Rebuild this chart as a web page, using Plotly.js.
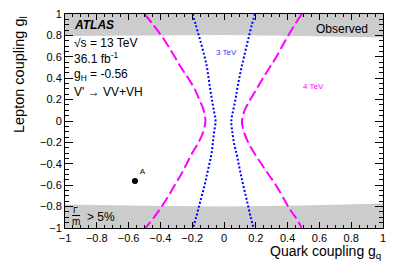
<!DOCTYPE html>
<html>
<head>
<meta charset="utf-8">
<script src="https://cdn.plot.ly/plotly-3.0.1.min.js"></script>
<style>html,body{margin:0;padding:0;background:#fff;}#chart{width:403px;height:273px;}</style>
</head>
<body>
<div id="chart"></div>
<script>
// Excluded regions (Gamma/m > 5%) boundaries
const bandX = [-1, -0.5, 0, 0.5, 1];
const bandTopEdge = [0.795, 0.80, 0.803, 0.795, 0.78];
const bandBottomEdge = [-0.78, -0.793, -0.798, -0.79, -0.772];

// 4 TeV contour (magenta dashed)
const tev4LeftY  = [1.0, 0.9, 0.75, 0.6, 0.5, 0.4, 0.3, 0.2, 0.1, 0.0, -0.1, -0.2, -0.3, -0.4, -0.5, -0.6, -0.75, -0.9, -1.0];
const tev4LeftX  = [-0.50, -0.445, -0.372, -0.31, -0.27, -0.225, -0.185, -0.155, -0.128, -0.117, -0.13, -0.16, -0.20, -0.235, -0.27, -0.31, -0.37, -0.44, -0.494];
const tev4RightY = [1.0, 0.9, 0.75, 0.6, 0.5, 0.4, 0.3, 0.2, 0.1, 0.0, -0.1, -0.2, -0.3, -0.4, -0.5, -0.6, -0.75, -0.83, -0.9, -1.0];
const tev4RightX = [0.49, 0.445, 0.385, 0.33, 0.287, 0.245, 0.205, 0.165, 0.13, 0.113, 0.125, 0.152, 0.19, 0.235, 0.28, 0.327, 0.385, 0.416, 0.45, 0.489];

// 3 TeV contour (blue dotted)
const tev3LeftY  = [1.0, 0.9, 0.75, 0.6, 0.5, 0.4, 0.3, 0.2, 0.1, 0.0, -0.1, -0.2, -0.3, -0.4, -0.5, -0.6, -0.75, -0.9, -1.0];
const tev3LeftX  = [-0.197, -0.178, -0.149, -0.122, -0.107, -0.097, -0.087, -0.076, -0.064, -0.053, -0.062, -0.07, -0.078, -0.092, -0.107, -0.122, -0.149, -0.175, -0.195];
const tev3RightY = [1.0, 0.9, 0.75, 0.6, 0.5, 0.4, 0.3, 0.2, 0.1, 0.0, -0.1, -0.2, -0.3, -0.4, -0.5, -0.6, -0.75, -0.9, -1.0];
const tev3RightX = [0.196, 0.175, 0.15, 0.126, 0.11, 0.096, 0.083, 0.072, 0.058, 0.046, 0.052, 0.062, 0.078, 0.092, 0.106, 0.121, 0.145, 0.168, 0.186];

// Benchmark point A
const pointAX = [-0.56];
const pointAY = [-0.56];
const pointALabel = ['A'];

const font = 'Liberation Sans, Arial, Helvetica, sans-serif';

const topBand = {
  x: bandX.concat(bandX.slice().reverse()),
  y: bandTopEdge.concat(bandX.map(() => 1)),
  type: 'scatter', mode: 'lines', fill: 'toself', fillcolor: '#cccccc',
  line: {width: 0}, hoverinfo: 'skip', showlegend: false
};
const bottomBand = {
  x: bandX.concat(bandX.slice().reverse()),
  y: bandBottomEdge.concat(bandX.map(() => -1)),
  type: 'scatter', mode: 'lines', fill: 'toself', fillcolor: '#cccccc',
  line: {width: 0}, hoverinfo: 'skip', showlegend: false
};

const magLine = {color: '#ff00ff', width: 2, dash: '11px,4px', shape: 'spline'};
const blueLine = {color: '#0000ff', width: 2, dash: '2px,2px', shape: 'spline'};

const traces = [
  topBand, bottomBand,
  {x: tev4LeftX, y: tev4LeftY, type: 'scatter', mode: 'lines', line: magLine, showlegend: false},
  {x: tev4RightX, y: tev4RightY, type: 'scatter', mode: 'lines', line: magLine, showlegend: false},
  {x: tev3LeftX, y: tev3LeftY, type: 'scatter', mode: 'lines', line: blueLine, showlegend: false},
  {x: tev3RightX, y: tev3RightY, type: 'scatter', mode: 'lines', line: blueLine, showlegend: false},
  {x: pointAX, y: pointAY, type: 'scatter', mode: 'markers+text', text: pointALabel,
   textposition: 'top right', textfont: {family: font, size: 8, color: '#000'},
   marker: {color: '#000', size: 6}, showlegend: false}
];

const axisCommon = {
  range: [-1, 1], dtick: 0.2, tick0: -1, ticks: 'inside', tickcolor: '#000',
  showline: true, linecolor: '#000', linewidth: 1, mirror: 'ticks',
  showgrid: false, zeroline: false,
  tickfont: {family: font, size: 11, color: '#000'}
};

const layout = {
  width: 403, height: 273,
  margin: {l: 64.5, r: 20, t: 14, b: 45},
  paper_bgcolor: '#fff', plot_bgcolor: '#fff',
  showlegend: false,
  xaxis: Object.assign({}, axisCommon, {ticklen: 6,
    minor: {dtick: 0.05, tick0: -1, ticks: 'inside', ticklen: 3, tickcolor: '#000', showgrid: false}}),
  yaxis: Object.assign({}, axisCommon, {ticklen: 8,
    minor: {dtick: 0.05, tick0: -1, ticks: 'inside', ticklen: 4, tickcolor: '#000', showgrid: false}}),
  annotations: [
    {xref: 'x', yref: 'y', x: -0.955, y: 0.895, xanchor: 'left', yanchor: 'middle', showarrow: false,
     text: '<b><i>ATLAS</i></b>', font: {family: font, size: 12, color: '#000'}},
    {xref: 'x', yref: 'y', x: -0.955, y: 0.725, xanchor: 'left', yanchor: 'middle', showarrow: false,
     text: '√s = 13 TeV', font: {family: font, size: 12, color: '#000'}},
    {xref: 'x', yref: 'y', x: -0.955, y: 0.585, xanchor: 'left', yanchor: 'middle', showarrow: false,
     text: '36.1 fb<sup>-1</sup>', font: {family: font, size: 12, color: '#000'}},
    {xref: 'x', yref: 'y', x: -0.955, y: 0.43, xanchor: 'left', yanchor: 'middle', showarrow: false,
     text: 'g<sub>H</sub> = -0.56', font: {family: font, size: 12, color: '#000'}},
    {xref: 'x', yref: 'y', x: -0.955, y: 0.27, xanchor: 'left', yanchor: 'middle', showarrow: false,
     text: "V' → VV+VH", font: {family: font, size: 12, color: '#000'}},
    {xref: 'x', yref: 'y', x: 0.918, y: 0.86, xanchor: 'right', yanchor: 'middle', showarrow: false,
     text: 'Observed', font: {family: font, size: 12, color: '#000'}},
    {xref: 'x', yref: 'y', x: 0.014, y: 0.64, xanchor: 'center', yanchor: 'middle', showarrow: false,
     text: '3 TeV', font: {family: font, size: 8, color: '#3333ff'}},
    {xref: 'x', yref: 'y', x: 0.564, y: 0.327, xanchor: 'center', yanchor: 'middle', showarrow: false,
     text: '4 TeV', font: {family: font, size: 8, color: '#ff00ff'}},
    {xref: 'x', yref: 'y', x: -0.931, y: -0.835, xanchor: 'center', yanchor: 'middle', showarrow: false,
     text: 'Γ', font: {family: font, size: 9, color: '#000'}},
    {xref: 'x', yref: 'y', x: -0.931, y: -0.94, xanchor: 'center', yanchor: 'middle', showarrow: false,
     text: 'm', font: {family: font, size: 10, color: '#000'}},
    {xref: 'x', yref: 'y', x: -0.875, y: -0.893, xanchor: 'left', yanchor: 'middle', showarrow: false,
     text: '&gt; 5%', font: {family: font, size: 12, color: '#000'}},
    {xref: 'paper', yref: 'paper', x: 1, y: -0.11, xanchor: 'right', yanchor: 'middle', showarrow: false,
     text: 'Quark coupling g<sub>q</sub>', font: {family: font, size: 14, color: '#000'}},
    {xref: 'paper', yref: 'paper', x: -0.143, y: 1, xanchor: 'center', yanchor: 'top', showarrow: false,
     textangle: -90, text: 'Lepton coupling g<sub>l</sub>', font: {family: font, size: 14.5, color: '#000'}}
  ],
  shapes: [
    {type: 'line', xref: 'x', yref: 'y', x0: -0.955, x1: -0.905, y0: -0.883, y1: -0.883,
     line: {color: '#000', width: 1}}
  ]
};

Plotly.newPlot('chart', traces, layout, {staticPlot: true, displayModeBar: false});
</script>
</body>
</html>
